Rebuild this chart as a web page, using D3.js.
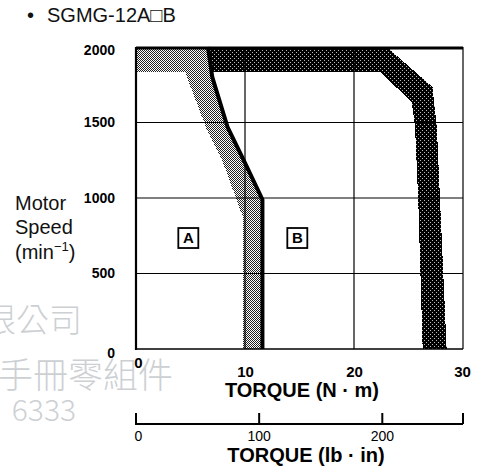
<!DOCTYPE html>
<html><head><meta charset="utf-8">
<script src="https://cdn.jsdelivr.net/npm/d3@7"></script>
<style>body{margin:0;background:#fff;} svg{display:block;font-family:"Liberation Sans",Arial,Helvetica,sans-serif;}</style>
</head><body><svg id="c" width="483" height="471"></svg>
<script>
// ---- data ----
const speedTicks = [0, 500, 1000, 1500, 2000];
const torqueTicksNm = [0, 10, 20, 30];
const torqueTicksLbIn = [0, 100, 200];
const NM_TO_LBIN = 8.8507;
const torqueMaxNm = 30;
const speedMax = 2000;
// continuous duty zone (A): left edge of the shaded band, [torque N·m, speed min-1]
const contLeftEdge = [[0,1834],[4.5,1834],[6.4,1470],[8.0,1232],[9.3,974],[9.8,874],[9.8,0]];
// boundary line between A and B
const boundaryLine = [[6.6,2000],[7.0,1800],[8.4,1470],[10.0,1232],[11.6,990],[11.6,0]];
// intermittent duty zone (B): outer and inner edge of the dark band
const interOuterEdge = [[6.6,2000],[23.0,2000],[27.2,1735],[27.6,1470],[27.9,974],[28.5,0]];
const interInnerEdge = [[7.0,1834],[22.4,1834],[25.3,1636],[25.6,1470],[25.9,974],[26.3,0]];
const regionLabels = [{name:"A", torque:4.8, speed:735},{name:"B", torque:14.8, speed:735}];
const watermark = [{t:"有限公司", x:82, y:332, s:33},{t:"手冊零組件", x:173, y:388, s:35},{t:"6333", x:76, y:421, s:30}];

// ---- drawing ----
const svg = d3.select("#c");
const x = d3.scaleLinear([0, torqueMaxNm], [136, 463]);
const y = d3.scaleLinear([0, speedMax], [349, 47]);
const xl = d3.scaleLinear([0, torqueMaxNm * NM_TO_LBIN], [136, 463]);

const defs = svg.append("defs");
const pl = defs.append("pattern").attr("id","lt").attr("width",2).attr("height",2).attr("patternUnits","userSpaceOnUse");
pl.append("rect").attr("width",2).attr("height",2).attr("fill","#fff");
pl.append("rect").attr("x",0).attr("y",0).attr("width",1).attr("height",1).attr("fill","#222");
pl.append("rect").attr("x",1).attr("y",1).attr("width",1).attr("height",1).attr("fill","#222");
const pd = defs.append("pattern").attr("id","dk").attr("width",4).attr("height",4).attr("patternUnits","userSpaceOnUse");
pd.append("rect").attr("width",4).attr("height",4).attr("fill","#000");
[[0,0],[2,2]].forEach(([a,b])=>pd.append("rect").attr("x",a).attr("y",b).attr("width",1).attr("height",1).attr("fill","#bbb"));

// watermark
svg.append("g").selectAll("text").data(watermark).join("text")
  .attr("x",d=>d.x).attr("y",d=>d.y).attr("text-anchor","end")
  .attr("font-size",d=>d.s).attr("fill","#cdd0d3")
  .attr("font-family","'Noto Sans CJK TC','Noto Sans CJK SC',sans-serif").attr("font-weight",300)
  .text(d=>d.t);

const line = d3.line().x(d=>x(d[0])).y(d=>y(d[1]));
const polyA = [[0,speedMax], ...boundaryLine, ...contLeftEdge.slice().reverse()];
const polyB = [...interOuterEdge, ...interInnerEdge.slice().reverse()];
svg.append("path").attr("d", line(polyA)+"Z").attr("fill","url(#lt)").attr("shape-rendering","crispEdges");
svg.append("path").attr("d", line(polyB)+"Z").attr("fill","url(#dk)").attr("shape-rendering","crispEdges");

// grid
const grid = svg.append("g").attr("stroke","#000").attr("stroke-width",1.2);
torqueTicksNm.filter(t=>t>0 && t<torqueMaxNm).forEach(t=>grid.append("line").attr("x1",x(t)).attr("x2",x(t)).attr("y1",y(0)).attr("y2",y(speedMax)));
speedTicks.filter(t=>t>0 && t<speedMax).forEach(t=>grid.append("line").attr("x1",x(0)).attr("x2",x(torqueMaxNm)).attr("y1",y(t)).attr("y2",y(t)));

// boundary line
svg.append("path").attr("d", line(boundaryLine)).attr("fill","none").attr("stroke","#000").attr("stroke-width",4).attr("stroke-linejoin","round");

// frame
svg.append("line").attr("x1",x(0)).attr("x2",x(0)).attr("y1",y(0)+1).attr("y2",y(speedMax)).attr("stroke","#000").attr("stroke-width",2.2);
svg.append("line").attr("x1",x(0)).attr("x2",x(torqueMaxNm)).attr("y1",y(speedMax)+1).attr("y2",y(speedMax)+1).attr("stroke","#000").attr("stroke-width",3);
svg.append("line").attr("x1",x(torqueMaxNm)).attr("x2",x(torqueMaxNm)).attr("y1",y(0)).attr("y2",y(speedMax)).attr("stroke","#000").attr("stroke-width",1.2);
svg.append("line").attr("x1",x(0)-1).attr("x2",x(torqueMaxNm)).attr("y1",y(0)).attr("y2",y(0)).attr("stroke","#000").attr("stroke-width",1.6);

// y axis labels
const ya = svg.append("g").attr("transform",`translate(${x(0)},0)`)
  .call(d3.axisLeft(y).tickValues(speedTicks).tickSize(0).tickPadding(21).tickFormat(d3.format("d")));
ya.select(".domain").remove();
ya.selectAll("text").attr("font-size",14).attr("font-weight","bold").attr("fill","#000")
  .attr("font-family","'Liberation Sans',Arial,sans-serif").attr("dy",d=>d===0?"0.6em":d===speedMax?"0.5em":"0.32em");

// x axis (N·m)
const xa = svg.append("g").attr("transform",`translate(0,${y(0)})`)
  .call(d3.axisBottom(x).tickValues(torqueTicksNm).tickSize(0).tickPadding(17).tickFormat(d3.format("d")));
xa.select(".domain").remove();
xa.selectAll("text").attr("font-size",15).attr("font-weight","bold").attr("fill","#000")
  .attr("font-family","'Liberation Sans',Arial,sans-serif")
  .attr("transform",d=>d===0?"translate(2,-9)":d===torqueMaxNm?"translate(-1,0)":null);
svg.append("text").attr("x",302).attr("y",397).attr("text-anchor","middle").attr("font-size",20).attr("font-weight","bold").text("TORQUE (N · m)");

// secondary axis (lb·in)
const ay = 424;
svg.append("line").attr("x1",xl(0)-1).attr("x2",xl.range()[1]).attr("y1",ay).attr("y2",ay).attr("stroke","#000").attr("stroke-width",2);
[...torqueTicksLbIn, xl.domain()[1]].forEach(t=>svg.append("line").attr("x1",xl(t)).attr("x2",xl(t)).attr("y1",ay).attr("y2",ay-11).attr("stroke","#000").attr("stroke-width",2));
svg.append("g").selectAll("text").data(torqueTicksLbIn).join("text")
  .attr("x",d=>xl(d)+(d===0?2.5:0)).attr("y",441).attr("text-anchor","middle").attr("font-size",14).text(d=>d);
svg.append("text").attr("x",306).attr("y",462).attr("text-anchor","middle").attr("font-size",20).attr("font-weight","bold").text("TORQUE (lb · in)");

// region labels
const rl = svg.append("g").selectAll("g").data(regionLabels).join("g")
  .attr("transform",d=>`translate(${x(d.torque)},${y(d.speed)})`);
rl.append("rect").attr("x",-10).attr("y",-10).attr("width",20).attr("height",20).attr("fill","#fff").attr("stroke","#000").attr("stroke-width",1.8);
rl.append("text").attr("text-anchor","middle").attr("dy","0.36em").attr("font-size",15).attr("font-weight",600).text(d=>d.name);

// y title
const yt = svg.append("text").attr("x",15).attr("font-size",20).attr("fill","#111");
yt.append("tspan").attr("x",15).attr("y",210).text("Motor");
yt.append("tspan").attr("x",15).attr("y",234).text("Speed");
yt.append("tspan").attr("x",15).attr("y",259).text("(min");
yt.append("tspan").attr("font-size",13).attr("dy",-8).text("−1");
yt.append("tspan").attr("dy",8).text(")");

// title
svg.append("text").attr("x",27).attr("y",22).attr("font-size",20).attr("fill","#111").text("•");
svg.append("text").attr("x",47).attr("y",22).attr("font-size",20).attr("fill","#111").text("SGMG-12A□B");
</script></body></html>
